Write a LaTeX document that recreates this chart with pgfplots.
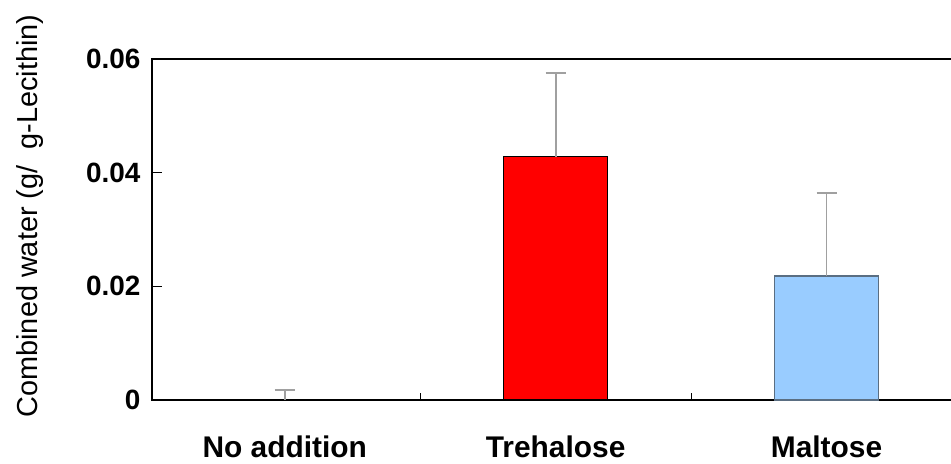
\documentclass[border=0pt]{standalone}
\usepackage{pgfplots}
\pgfplotsset{compat=1.18}
\usepackage{fontspec}
\setmainfont{Liberation Sans}

\definecolor{trehred}{HTML}{FF0000}
\definecolor{maltblue}{HTML}{99CCFF}
\definecolor{maltedge}{HTML}{5A6E82}
\definecolor{errgray}{HTML}{A0A0A0}

\begin{document}
\begin{tikzpicture}
\begin{axis}[
  scale only axis,
  width=810bp, height=341bp,
  xmin=-0.49, xmax=2.5,
  ymin=0, ymax=0.06,
  axis line style={line width=1.3bp},
  xtick={0,1,2},
  xticklabels={No addition, Trehalose, Maltose},
  x tick label style={font=\bfseries\fontsize{30}{32}\selectfont, yshift=-32bp},
  ytick={0,0.02,0.04,0.06},
  yticklabels={0,0.02,0.04,0.06},
  scaled y ticks=false,
  tick style={draw=none},
  yticklabel style={font=\bfseries\fontsize{28}{30}\selectfont, xshift=-8bp},
  /pgf/number format/assume math mode=true,
  error bars/y dir=plus,
  error bars/y explicit,
  error bars/error mark options={rotate=90, mark size=10bp, line width=1.5bp, errgray},
  error bars/error bar style={line width=1.8bp, errgray},
  clip=false,
]
\coordinate (sw) at (rel axis cs:0,0);

% No addition
\addplot[ybar, bar width=104bp, bar shift=0pt, draw=none, fill=none]
  coordinates {(0,0) +- (0,0.0018)};
% Trehalose
\addplot[ybar, bar width=104bp, bar shift=0pt, draw=black, fill=trehred, line width=1.3bp]
  coordinates {(1,0.0428) +- (0,0.0147)};
% Maltose
\addplot[ybar, bar width=104bp, bar shift=0pt, draw=maltedge, fill=maltblue, line width=1.3bp]
  coordinates {(2,0.0218) +- (0,0.0146)};

% tick marks, pointing into the axis
\draw[black, line width=1bp] (axis cs:0.5,0) -- ([yshift=7bp]axis cs:0.5,0);
\draw[black, line width=1bp] (axis cs:1.5,0) -- ([yshift=7bp]axis cs:1.5,0);
\draw[black, line width=1bp] (axis cs:-0.49,0.02) -- ([xshift=10bp]axis cs:-0.49,0.02);
\draw[black, line width=1bp] (axis cs:-0.49,0.04) -- ([xshift=10bp]axis cs:-0.49,0.04);
\end{axis}

\node[rotate=90, font=\fontsize{29}{31}\selectfont, anchor=center]
  at ([shift={(-122bp,184bp)}]sw) {Combined water (g/\ \ g-Lecithin)};

\pgfresetboundingbox
\path[use as bounding box] ([shift={(-152bp,-64bp)}]sw) rectangle ++(951bp,464bp);
\end{tikzpicture}
\end{document}
